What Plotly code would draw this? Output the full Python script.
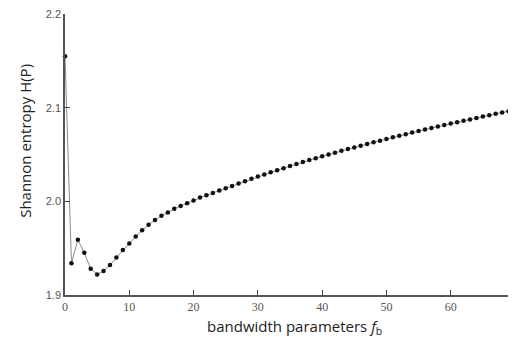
import plotly.graph_objects as go

bandwidth = list(range(0, 70))
entropy = [
    2.155, 1.934, 1.959, 1.945, 1.928, 1.922, 1.9255, 1.932, 1.940, 1.948,
    1.955, 1.9625, 1.969, 1.975, 1.980, 1.9845, 1.988, 1.992, 1.995, 1.998,
    2.001, 2.004, 2.0065, 2.009, 2.0115, 2.014, 2.0165, 2.019, 2.0215, 2.024,
    2.0265, 2.0287, 2.031, 2.0332, 2.0354, 2.0376, 2.0398, 2.042, 2.044, 2.046,
    2.048, 2.050, 2.052, 2.054, 2.0558, 2.0576, 2.0594, 2.0612, 2.063, 2.0648,
    2.0666, 2.0683, 2.070, 2.0717, 2.0734, 2.075, 2.0766, 2.0782, 2.0798, 2.0814,
    2.083, 2.0845, 2.086, 2.0875, 2.089, 2.0905, 2.092, 2.0934, 2.0948, 2.0962,
]
x_ticks = [0, 10, 20, 30, 40, 50, 60, 70]
y_ticks = [1.9, 2.0, 2.1, 2.2]
y_tick_text = ["1.9", "2.0", "2.1", "2.2"]

fig = go.Figure()
fig.add_trace(go.Scatter(
    x=bandwidth, y=entropy, mode="lines+markers",
    line=dict(color="#8a8a8a", width=1),
    marker=dict(color="#111111", size=4.5),
    cliponaxis=False, showlegend=False,
))

# page body has an 8px default margin, so the figure is 8px smaller
fig.update_layout(
    width=508, height=337,
    margin=dict(l=57, r=1, t=6, b=50, autoexpand=False),
    paper_bgcolor="white", plot_bgcolor="white",
    xaxis=dict(
        range=[0, 70], tickvals=x_ticks, ticks="inside", ticklen=5,
        tickcolor="#444", tickwidth=1.3, automargin=False, ticklabeloverflow="allow",
        showline=True, linecolor="#555", linewidth=1.5, showgrid=False, zeroline=False,
        tickfont=dict(family="Liberation Serif, Times New Roman, serif", size=12, color="#555"),
    ),
    yaxis=dict(
        range=[1.9, 2.2], tickvals=y_ticks, ticktext=y_tick_text, ticks="inside", ticklen=5,
        tickcolor="#444", tickwidth=1.3, automargin=False, ticklabeloverflow="allow",
        showline=True, linecolor="#555", linewidth=1.5, showgrid=False, zeroline=False,
        tickfont=dict(family="Liberation Sans, Arial, sans-serif", size=11, color="#555"),
    ),
    annotations=[
        dict(text="Shannon entropy H(P)", xref="paper", yref="paper",
             x=-0.088, y=0.55, xanchor="center", yanchor="middle", textangle=-90,
             showarrow=False, font=dict(family="Open Sans", size=15, color="#222")),
        dict(text="bandwidth parameters <i>f</i><sub>b</sub>", xref="paper", yref="paper",
             x=0.51, y=-0.115, xanchor="center", yanchor="middle",
             showarrow=False, font=dict(family="Open Sans", size=15, color="#222")),
    ],
)

fig.write_html("out.html")
